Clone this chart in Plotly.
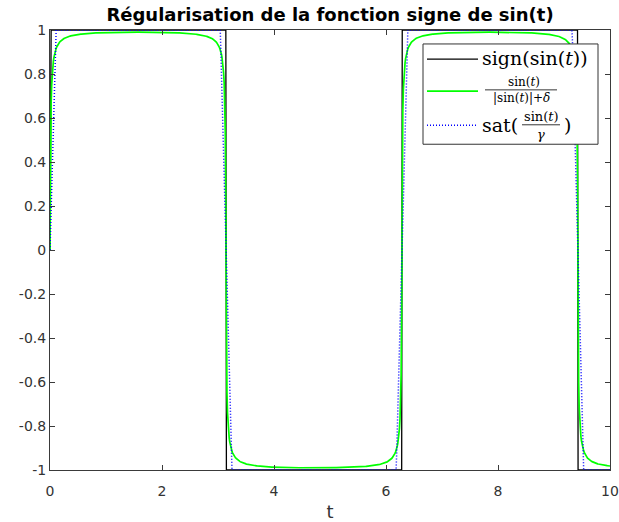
import numpy as np
import plotly.graph_objects as go

# Time axis and regularisation parameters
t_start, t_stop, t_step = 0.0, 10.0, 0.01
delta = 0.01   # offset in sin(t)/(|sin(t)|+delta)
gamma = 0.1    # saturation width in sat(sin(t)/gamma)

x_ticks = [0, 2, 4, 6, 8, 10]
y_ticks = [-1, -0.8, -0.6, -0.4, -0.2, 0, 0.2, 0.4, 0.6, 0.8, 1]
y_tick_text = ["-1", "-0.8", "-0.6", "-0.4", "-0.2", "0", "0.2", "0.4", "0.6", "0.8", "1"]

t = np.arange(t_start, t_stop + t_step / 2, t_step)
s = np.sin(t)
sign_curve = np.sign(s)
smooth_curve = s / (np.abs(s) + delta)
sat_curve = np.clip(s / gamma, -1, 1)

W, H = 619, 522
L, R, T, B = 50, 610, 29.5, 470.5  # plot area in pixels


def px(xp):
    return (xp - L) / (R - L)


def py(yp):
    return (B - yp) / (B - T)


dot_style = dict(color="blue", width=1.5, dash="1px,2px")

fig = go.Figure()
fig.add_trace(go.Scatter(x=t, y=sign_curve, mode="lines",
                         line=dict(color="black", width=1.3), showlegend=False))
fig.add_trace(go.Scatter(x=t, y=smooth_curve, mode="lines",
                         line=dict(color="#00ff00", width=1.7), showlegend=False))
fig.add_trace(go.Scatter(x=t, y=sat_curve, mode="lines",
                         line=dot_style, showlegend=False))

axis_color = "#3a3a3a"
tick_font = dict(family="DejaVu Sans", size=14, color="#333333")

fig.update_xaxes(range=[0, 10], tickvals=x_ticks, ticktext=[str(v) for v in x_ticks],
                 showgrid=False, zeroline=False, showline=True, mirror="ticks",
                 linecolor=axis_color, linewidth=1, ticks="inside", ticklen=5,
                 tickcolor=axis_color, tickfont=tick_font, automargin=False,
                 ticklabelstandoff=8,
                 title=dict(text="t", font=dict(family="DejaVu Sans", size=18, color="#333333"),
                            standoff=10))
fig.update_yaxes(range=[-1, 1], tickvals=y_ticks, ticktext=y_tick_text,
                 showgrid=False, zeroline=False, showline=True, mirror="ticks",
                 linecolor=axis_color, linewidth=1, ticks="inside", ticklen=5,
                 tickcolor=axis_color, tickfont=tick_font, automargin=False)

# Hand-built legend box with math-style labels
shapes = []
annotations = []
shapes.append(dict(type="rect", xref="paper", yref="paper",
                   x0=px(423), x1=px(598), y0=py(144), y1=py(43.5),
                   line=dict(color="#333333", width=1), fillcolor="white", layer="above"))
sample_x0, sample_x1 = px(427), px(478)
shapes.append(dict(type="line", xref="paper", yref="paper", x0=sample_x0, x1=sample_x1,
                   y0=py(58.7), y1=py(58.7), line=dict(color="black", width=1.3), layer="above"))
shapes.append(dict(type="line", xref="paper", yref="paper", x0=sample_x0, x1=sample_x1,
                   y0=py(90.7), y1=py(90.7), line=dict(color="#00ff00", width=1.7), layer="above"))
shapes.append(dict(type="line", xref="paper", yref="paper", x0=sample_x0, x1=sample_x1,
                   y0=py(125), y1=py(125), line=dot_style, layer="above"))

serif = "DejaVu Serif"
big = dict(family=serif, size=19, color="black")
small = dict(family=serif, size=12, color="black")
mid = dict(family=serif, size=13, color="black")


def label(x, y, text, font, anchor="center"):
    annotations.append(dict(xref="paper", yref="paper", x=px(x), y=py(y), text=text,
                            showarrow=False, font=font, xanchor=anchor, yanchor="middle"))


label(480, 58, "sign(sin(<i>t</i>))", big, "left")

# sin(t) / (|sin(t)| + delta)
label(524, 81.5, "sin(<i>t</i>)", small)
shapes.append(dict(type="line", xref="paper", yref="paper", x0=px(485), x1=px(557),
                   y0=py(89.5), y1=py(89.5), line=dict(color="black", width=0.8), layer="above"))
label(521, 98, "|sin(<i>t</i>)|+<i>δ</i>", small)

# sat(sin(t) / gamma)
label(480, 125, "sat(", big, "left")
label(541, 116, "sin(<i>t</i>)", mid)
shapes.append(dict(type="line", xref="paper", yref="paper", x0=px(522), x1=px(560),
                   y0=py(124.5), y1=py(124.5), line=dict(color="black", width=0.8), layer="above"))
label(541, 134, "<i>γ</i>", mid)
label(562, 125, ")", big, "left")

fig.update_layout(
    width=W, height=H,
    margin=dict(l=L, r=W - R, t=T, b=H - B, pad=0, autoexpand=False),
    paper_bgcolor="white", plot_bgcolor="white",
    title=dict(text="<b>Régularisation de la fonction signe de sin(t)</b>",
               font=dict(family="DejaVu Sans", size=18, color="black"),
               x=0.5, xref="paper", xanchor="center",
               y=1 - 15 / H, yref="container", yanchor="middle"),
    shapes=shapes, annotations=annotations,
)

fig.write_html("out.html")
